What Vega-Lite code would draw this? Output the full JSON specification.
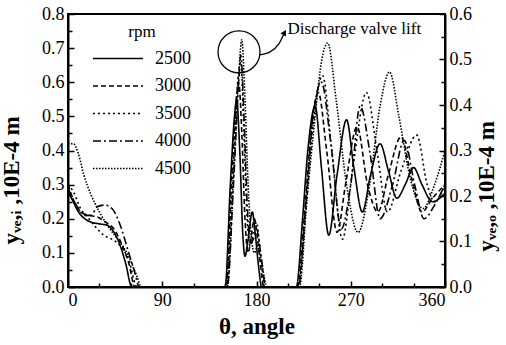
{
  "$schema": "https://vega.github.io/schema/vega-lite/v6.json",
  "autosize": "none",
  "width": 377,
  "height": 273,
  "padding": {"left": 68, "top": 14, "right": 61, "bottom": 58},
  "background": "white",
  "config": {
    "font": "Liberation Serif",
    "view": {"stroke": "black", "strokeWidth": 2},
    "axis": {"domainColor": "black", "domainWidth": 2, "tickColor": "black", "tickWidth": 1.5, "labelColor": "black", "titleColor": "black", "labelFont": "Liberation Serif", "titleFont": "Liberation Serif", "labelFontSize": 18, "titleFontSize": 23, "titleFontWeight": "bold", "grid": false, "labelOverlap": false}
  },
  "datasets": {
    "lift": [
      {"rpm": "2500", "theta": 0, "v": 0.28}, {"rpm": "2500", "theta": 5, "v": 0.25}, {"rpm": "2500", "theta": 10, "v": 0.22}, {"rpm": "2500", "theta": 16, "v": 0.2}, {"rpm": "2500", "theta": 22, "v": 0.19}, {"rpm": "2500", "theta": 30, "v": 0.185}, {"rpm": "2500", "theta": 38, "v": 0.18}, {"rpm": "2500", "theta": 45, "v": 0.155}, {"rpm": "2500", "theta": 50, "v": 0.12}, {"rpm": "2500", "theta": 55, "v": 0.07}, {"rpm": "2500", "theta": 61, "v": 0},
      {"rpm": "2500", "theta": 150, "v": 0}, {"rpm": "2500", "theta": 155, "v": 0.3}, {"rpm": "2500", "theta": 159, "v": 0.5}, {"rpm": "2500", "theta": 161, "v": 0.55}, {"rpm": "2500", "theta": 164, "v": 0.4}, {"rpm": "2500", "theta": 167, "v": 0.15}, {"rpm": "2500", "theta": 169, "v": 0.09}, {"rpm": "2500", "theta": 172, "v": 0.14}, {"rpm": "2500", "theta": 176, "v": 0.22}, {"rpm": "2500", "theta": 179, "v": 0.15}, {"rpm": "2500", "theta": 182, "v": 0.06}, {"rpm": "2500", "theta": 185, "v": 0},
      {"rpm": "2500", "theta": 218, "v": 0}, {"rpm": "2500", "theta": 224, "v": 0.2}, {"rpm": "2500", "theta": 229, "v": 0.4}, {"rpm": "2500", "theta": 236, "v": 0.53}, {"rpm": "2500", "theta": 242, "v": 0.35}, {"rpm": "2500", "theta": 249, "v": 0.152}, {"rpm": "2500", "theta": 257, "v": 0.33}, {"rpm": "2500", "theta": 266, "v": 0.49}, {"rpm": "2500", "theta": 273, "v": 0.35}, {"rpm": "2500", "theta": 281, "v": 0.22}, {"rpm": "2500", "theta": 289, "v": 0.33}, {"rpm": "2500", "theta": 298, "v": 0.42}, {"rpm": "2500", "theta": 306, "v": 0.34}, {"rpm": "2500", "theta": 314, "v": 0.26}, {"rpm": "2500", "theta": 322, "v": 0.3}, {"rpm": "2500", "theta": 330, "v": 0.35}, {"rpm": "2500", "theta": 338, "v": 0.3}, {"rpm": "2500", "theta": 348, "v": 0.25}, {"rpm": "2500", "theta": 355, "v": 0.26}, {"rpm": "2500", "theta": 360, "v": 0.275},

      {"rpm": "3000", "theta": 0, "v": 0.3}, {"rpm": "3000", "theta": 6, "v": 0.25}, {"rpm": "3000", "theta": 12, "v": 0.22}, {"rpm": "3000", "theta": 20, "v": 0.21}, {"rpm": "3000", "theta": 28, "v": 0.205}, {"rpm": "3000", "theta": 36, "v": 0.19}, {"rpm": "3000", "theta": 44, "v": 0.17}, {"rpm": "3000", "theta": 52, "v": 0.12}, {"rpm": "3000", "theta": 58, "v": 0.07}, {"rpm": "3000", "theta": 64, "v": 0},
      {"rpm": "3000", "theta": 151, "v": 0}, {"rpm": "3000", "theta": 156, "v": 0.3}, {"rpm": "3000", "theta": 161, "v": 0.56}, {"rpm": "3000", "theta": 163, "v": 0.6}, {"rpm": "3000", "theta": 166, "v": 0.45}, {"rpm": "3000", "theta": 169, "v": 0.2}, {"rpm": "3000", "theta": 172, "v": 0.1}, {"rpm": "3000", "theta": 175, "v": 0.15}, {"rpm": "3000", "theta": 178, "v": 0.2}, {"rpm": "3000", "theta": 181, "v": 0.14}, {"rpm": "3000", "theta": 184, "v": 0.06}, {"rpm": "3000", "theta": 187, "v": 0},
      {"rpm": "3000", "theta": 219, "v": 0}, {"rpm": "3000", "theta": 226, "v": 0.22}, {"rpm": "3000", "theta": 232, "v": 0.45}, {"rpm": "3000", "theta": 239, "v": 0.57}, {"rpm": "3000", "theta": 247, "v": 0.4}, {"rpm": "3000", "theta": 257, "v": 0.16}, {"rpm": "3000", "theta": 265, "v": 0.3}, {"rpm": "3000", "theta": 276, "v": 0.47}, {"rpm": "3000", "theta": 286, "v": 0.3}, {"rpm": "3000", "theta": 296, "v": 0.22}, {"rpm": "3000", "theta": 306, "v": 0.33}, {"rpm": "3000", "theta": 318, "v": 0.44}, {"rpm": "3000", "theta": 328, "v": 0.32}, {"rpm": "3000", "theta": 338, "v": 0.22}, {"rpm": "3000", "theta": 348, "v": 0.26}, {"rpm": "3000", "theta": 360, "v": 0.3},

      {"rpm": "3500", "theta": 0, "v": 0.3}, {"rpm": "3500", "theta": 5, "v": 0.28}, {"rpm": "3500", "theta": 12, "v": 0.23}, {"rpm": "3500", "theta": 20, "v": 0.2}, {"rpm": "3500", "theta": 28, "v": 0.17}, {"rpm": "3500", "theta": 35, "v": 0.15}, {"rpm": "3500", "theta": 42, "v": 0.14}, {"rpm": "3500", "theta": 50, "v": 0.12}, {"rpm": "3500", "theta": 58, "v": 0.08}, {"rpm": "3500", "theta": 66, "v": 0},
      {"rpm": "3500", "theta": 151, "v": 0}, {"rpm": "3500", "theta": 157, "v": 0.3}, {"rpm": "3500", "theta": 162, "v": 0.6}, {"rpm": "3500", "theta": 165, "v": 0.66}, {"rpm": "3500", "theta": 168, "v": 0.45}, {"rpm": "3500", "theta": 171, "v": 0.2}, {"rpm": "3500", "theta": 174, "v": 0.12}, {"rpm": "3500", "theta": 177, "v": 0.16}, {"rpm": "3500", "theta": 180, "v": 0.19}, {"rpm": "3500", "theta": 183, "v": 0.12}, {"rpm": "3500", "theta": 188, "v": 0},
      {"rpm": "3500", "theta": 220, "v": 0}, {"rpm": "3500", "theta": 227, "v": 0.22}, {"rpm": "3500", "theta": 234, "v": 0.47}, {"rpm": "3500", "theta": 243, "v": 0.62}, {"rpm": "3500", "theta": 252, "v": 0.4}, {"rpm": "3500", "theta": 262, "v": 0.14}, {"rpm": "3500", "theta": 272, "v": 0.35}, {"rpm": "3500", "theta": 285, "v": 0.57}, {"rpm": "3500", "theta": 295, "v": 0.4}, {"rpm": "3500", "theta": 305, "v": 0.22}, {"rpm": "3500", "theta": 318, "v": 0.34}, {"rpm": "3500", "theta": 333, "v": 0.445}, {"rpm": "3500", "theta": 343, "v": 0.3}, {"rpm": "3500", "theta": 350, "v": 0.25}, {"rpm": "3500", "theta": 360, "v": 0.3},

      {"rpm": "4000", "theta": 0, "v": 0.29}, {"rpm": "4000", "theta": 8, "v": 0.24}, {"rpm": "4000", "theta": 16, "v": 0.21}, {"rpm": "4000", "theta": 22, "v": 0.21}, {"rpm": "4000", "theta": 28, "v": 0.235}, {"rpm": "4000", "theta": 35, "v": 0.24}, {"rpm": "4000", "theta": 42, "v": 0.23}, {"rpm": "4000", "theta": 50, "v": 0.18}, {"rpm": "4000", "theta": 58, "v": 0.1}, {"rpm": "4000", "theta": 64, "v": 0.04}, {"rpm": "4000", "theta": 68, "v": 0},
      {"rpm": "4000", "theta": 152, "v": 0}, {"rpm": "4000", "theta": 158, "v": 0.3}, {"rpm": "4000", "theta": 163, "v": 0.6}, {"rpm": "4000", "theta": 165, "v": 0.68}, {"rpm": "4000", "theta": 168, "v": 0.5}, {"rpm": "4000", "theta": 171, "v": 0.25}, {"rpm": "4000", "theta": 174, "v": 0.13}, {"rpm": "4000", "theta": 177, "v": 0.14}, {"rpm": "4000", "theta": 180, "v": 0.17}, {"rpm": "4000", "theta": 184, "v": 0.1}, {"rpm": "4000", "theta": 189, "v": 0},
      {"rpm": "4000", "theta": 220, "v": 0}, {"rpm": "4000", "theta": 227, "v": 0.24}, {"rpm": "4000", "theta": 234, "v": 0.5}, {"rpm": "4000", "theta": 242, "v": 0.6}, {"rpm": "4000", "theta": 251, "v": 0.42}, {"rpm": "4000", "theta": 261, "v": 0.17}, {"rpm": "4000", "theta": 270, "v": 0.3}, {"rpm": "4000", "theta": 279, "v": 0.53}, {"rpm": "4000", "theta": 289, "v": 0.38}, {"rpm": "4000", "theta": 298, "v": 0.2}, {"rpm": "4000", "theta": 310, "v": 0.3}, {"rpm": "4000", "theta": 321, "v": 0.43}, {"rpm": "4000", "theta": 331, "v": 0.3}, {"rpm": "4000", "theta": 340, "v": 0.2}, {"rpm": "4000", "theta": 350, "v": 0.24}, {"rpm": "4000", "theta": 360, "v": 0.3},

      {"rpm": "4500", "theta": 0, "v": 0.42}, {"rpm": "4500", "theta": 5, "v": 0.42}, {"rpm": "4500", "theta": 10, "v": 0.39}, {"rpm": "4500", "theta": 15, "v": 0.33}, {"rpm": "4500", "theta": 22, "v": 0.27}, {"rpm": "4500", "theta": 30, "v": 0.22}, {"rpm": "4500", "theta": 40, "v": 0.17}, {"rpm": "4500", "theta": 50, "v": 0.13}, {"rpm": "4500", "theta": 58, "v": 0.09}, {"rpm": "4500", "theta": 66, "v": 0.03}, {"rpm": "4500", "theta": 70, "v": 0},
      {"rpm": "4500", "theta": 152, "v": 0}, {"rpm": "4500", "theta": 158, "v": 0.32}, {"rpm": "4500", "theta": 163, "v": 0.62}, {"rpm": "4500", "theta": 166, "v": 0.725}, {"rpm": "4500", "theta": 169, "v": 0.55}, {"rpm": "4500", "theta": 172, "v": 0.3}, {"rpm": "4500", "theta": 175, "v": 0.15}, {"rpm": "4500", "theta": 178, "v": 0.1}, {"rpm": "4500", "theta": 181, "v": 0.12}, {"rpm": "4500", "theta": 185, "v": 0.07}, {"rpm": "4500", "theta": 190, "v": 0},
      {"rpm": "4500", "theta": 221, "v": 0}, {"rpm": "4500", "theta": 228, "v": 0.25}, {"rpm": "4500", "theta": 236, "v": 0.5}, {"rpm": "4500", "theta": 242, "v": 0.66}, {"rpm": "4500", "theta": 248, "v": 0.715}, {"rpm": "4500", "theta": 256, "v": 0.55}, {"rpm": "4500", "theta": 266, "v": 0.3}, {"rpm": "4500", "theta": 277, "v": 0.16}, {"rpm": "4500", "theta": 288, "v": 0.3}, {"rpm": "4500", "theta": 298, "v": 0.53}, {"rpm": "4500", "theta": 307, "v": 0.63}, {"rpm": "4500", "theta": 316, "v": 0.5}, {"rpm": "4500", "theta": 326, "v": 0.33}, {"rpm": "4500", "theta": 339, "v": 0.23}, {"rpm": "4500", "theta": 350, "v": 0.3}, {"rpm": "4500", "theta": 360, "v": 0.4}
    ],
    "circle": [{"theta": 163.3, "v": 0.689}],
    "label": [{"theta": 209.5, "v": 0.757, "text": "Discharge valve lift"}],
    "arrow": [
      {"theta": 182.4, "v": 0.68}, {"theta": 192.9, "v": 0.689}, {"theta": 201.5, "v": 0.713}, {"theta": 206.3, "v": 0.742}
    ],
    "arrowhead": [{"theta": 206.8, "v": 0.746}],
    "right": [{"r": 0}, {"r": 0.6}]
  },
  "layer": [
    {
      "encoding": {
        "x": {"field": "theta", "type": "quantitative", "scale": {"domain": [0, 360], "nice": false},
          "axis": {"values": [0, 30, 60, 90, 120, 150, 180, 210, 240, 270, 300, 330, 360],
            "labelExpr": "datum.value % 90 === 0 ? datum.value : ''", "labelOverlap": false,
            "tickSize": {"condition": {"test": "datum.value % 90 !== 0", "value": -4}, "value": -6},
            "labelPadding": 10, "title": "θ, angle", "titlePadding": 4}},
        "y": {"field": "v", "type": "quantitative", "scale": {"domain": [0, 0.8], "nice": false},
          "axis": {"values": [0, 0.05, 0.1, 0.15, 0.2, 0.25, 0.3, 0.35, 0.4, 0.45, 0.5, 0.55, 0.6, 0.65, 0.7, 0.75, 0.8],
            "labelExpr": "round(datum.value*100) % 10 === 0 ? format(datum.value, '.1f') : ''", "labelOverlap": false,
            "tickSize": {"condition": {"test": "round(datum.value*100) % 10 !== 0", "value": -4}, "value": -6},
            "labelPadding": 10, "title": "yᵥₑ,ᵢ ,10E-4 m", "titleAngle": -90, "titleX": -45, "titleY": 166}}
      },
      "layer": [
        {
          "data": {"name": "lift"},
          "mark": {"type": "line", "interpolate": "monotone", "color": "black", "strokeWidth": 1.6},
          "encoding": {
            "strokeDash": {"field": "rpm", "type": "nominal",
              "scale": {"domain": ["2500", "3000", "3500", "4000", "4500"], "range": [[1, 0], [5, 3], [2, 3], [8, 3, 2, 3], [1.5, 1.5]]},
              "legend": {"orient": "none", "legendX": 24, "legendY": 10, "title": "rpm", "titleFont": "Liberation Serif", "titleFontSize": 17, "titleFontWeight": "normal", "titleColor": "black", "titleAnchor": "middle", "titlePadding": 5, "labelFont": "Liberation Serif", "labelFontSize": 18, "labelColor": "black", "symbolType": "stroke", "symbolSize": 2500, "symbolStrokeWidth": 1.6, "symbolStrokeColor": "black", "labelOffset": 11, "clipHeight": 25, "rowPadding": 2.5}}
          }
        },
        {
          "data": {"name": "circle"},
          "mark": {"type": "point", "shape": "circle", "size": 1764, "filled": false, "stroke": "black", "strokeWidth": 1.3, "opacity": 1}
        },
        {
          "data": {"name": "arrow"},
          "mark": {"type": "line", "interpolate": "monotone", "color": "black", "strokeWidth": 1.3}
        },
        {
          "data": {"name": "arrowhead"},
          "mark": {"type": "point", "shape": "triangle-up", "size": 40, "filled": true, "color": "black", "angle": 30, "opacity": 1}
        },
        {
          "data": {"name": "label"},
          "mark": {"type": "text", "align": "left", "baseline": "middle", "font": "Liberation Serif", "fontSize": 17, "color": "black"},
          "encoding": {"text": {"field": "text"}}
        }
      ]
    },
    {
      "data": {"name": "right"},
      "mark": {"type": "point", "opacity": 0},
      "encoding": {
        "y": {"field": "r", "type": "quantitative", "scale": {"domain": [0, 0.6], "nice": false},
          "axis": {"orient": "right", "values": [0, 0.05, 0.1, 0.15, 0.2, 0.25, 0.3, 0.35, 0.4, 0.45, 0.5, 0.55, 0.6],
            "labelExpr": "round(datum.value*100) % 10 === 0 ? format(datum.value, '.1f') : ''", "labelOverlap": false,
            "tickSize": {"condition": {"test": "round(datum.value*100) % 10 !== 0", "value": -4}, "value": -6},
            "labelPadding": 10, "title": "yᵥₑ,ₒ ,10E-4 m", "titleAngle": -90, "titleX": 53, "titleY": 172}}
      }
    }
  ],
  "resolve": {"scale": {"y": "independent"}}
}
